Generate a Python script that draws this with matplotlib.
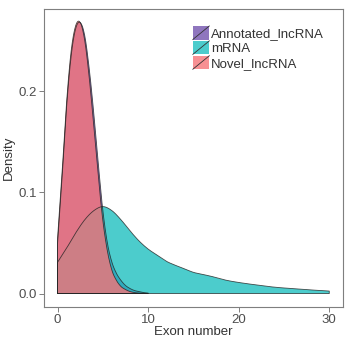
import numpy as np
import matplotlib
matplotlib.use("Agg")
import matplotlib.pyplot as plt
from matplotlib.patches import Rectangle, Patch
from matplotlib.lines import Line2D
from matplotlib.legend_handler import HandlerBase

plt.rcParams['font.family'] = ['Liberation Sans', 'DejaVu Sans']

# density curves
x_lnc = [0, 0.5, 1, 1.5, 2, 2.5, 3, 3.5, 4, 4.5, 5, 5.5, 6, 6.5, 7, 7.5, 8, 8.5, 9, 9.5, 10]
annotated = [0.05, 0.115, 0.185, 0.235, 0.262, 0.268, 0.255, 0.222, 0.178, 0.128, 0.082,
             0.05, 0.031, 0.02, 0.013, 0.008, 0.005, 0.003, 0.002, 0.001, 0.0005]
novel = [0.055, 0.12, 0.19, 0.24, 0.265, 0.268, 0.25, 0.213, 0.165, 0.115, 0.072,
         0.042, 0.023, 0.013, 0.007, 0.004, 0.002, 0.001, 0.0005, 0.0002, 0.0]

x_mrna = [0, 1, 2, 3, 4, 5, 6, 7, 8, 9, 10, 11, 12, 13, 14, 15, 16, 17, 18, 19, 20,
          22, 24, 26, 28, 30]
mrna = [0.031, 0.045, 0.06, 0.073, 0.082, 0.086, 0.082, 0.073, 0.062, 0.052, 0.044,
        0.038, 0.032, 0.028, 0.0245, 0.021, 0.019, 0.017, 0.0145, 0.0125, 0.011,
        0.0085, 0.0063, 0.0049, 0.0036, 0.0025]

labels = ['Annotated_lncRNA', 'mRNA', 'Novel_lncRNA']
colors = ['#6A48A8', '#10BCBC', '#F57478']
alphas = [0.75, 0.75, 0.8]


def smooth(xs, ys, n=12):
    # cubic hermite through the read points, just to draw a smooth outline
    xs = np.asarray(xs, float)
    ys = np.asarray(ys, float)
    m = np.gradient(ys, xs)
    out_x, out_y = [], []
    for i in range(len(xs) - 1):
        h = xs[i + 1] - xs[i]
        t = np.linspace(0, 1, n, endpoint=False)
        h00 = 2 * t**3 - 3 * t**2 + 1
        h10 = t**3 - 2 * t**2 + t
        h01 = -2 * t**3 + 3 * t**2
        h11 = t**3 - t**2
        out_x.append(xs[i] + t * h)
        out_y.append(h00 * ys[i] + h10 * h * m[i] + h01 * ys[i + 1] + h11 * h * m[i + 1])
    out_x.append([xs[-1]])
    out_y.append([ys[-1]])
    return np.concatenate(out_x), np.clip(np.concatenate(out_y), 0, None)


fig = plt.figure(figsize=(3.52, 3.39), dpi=100)
ax = fig.add_axes([0.125, 0.094, 0.849, 0.8795])

series = [(x_lnc, annotated), (x_mrna, mrna), (x_lnc, novel)]
for (xs, ys), c, a in zip(series, colors, alphas):
    sx, sy = smooth(xs, ys)
    ax.fill_between(sx, 0, sy, facecolor=c, alpha=a, edgecolor='none')
    px = np.concatenate([[sx[0]], sx, [sx[-1], sx[0]]])
    py = np.concatenate([[0], sy, [0, 0]])
    ax.plot(px, py, color='#222222', lw=0.6, alpha=0.8)

ax.set_xlim(-1.5, 31.5)
ax.set_ylim(-0.0134, 0.2814)
ax.set_xticks([0, 10, 20, 30])
ax.set_yticks([0.0, 0.1, 0.2])
ax.set_yticklabels(['0.0', '0.1', '0.2'])
ax.tick_params(direction='out', length=3.5, width=0.7, color='#7F7F7F',
               labelsize=9.5, labelcolor='#4D4D4D', pad=1.5)
for s in ax.spines.values():
    s.set_color('#7F7F7F')
    s.set_linewidth(0.8)
ax.set_xlabel('Exon number', fontsize=9.5, color='#333333', labelpad=0)
ax.set_ylabel('Density', fontsize=9.5, color='#333333', labelpad=3)


class KeyHandler(HandlerBase):
    def create_artists(self, legend, orig_handle, xdescent, ydescent, width, height, fontsize, trans):
        r = Rectangle((-xdescent, -ydescent), width, height, facecolor=orig_handle.get_facecolor(),
                      edgecolor='none', transform=trans)
        l = Line2D([-xdescent, -xdescent + width], [-ydescent, -ydescent + height],
                   color='#333333', lw=0.6, transform=trans)
        return [r, l]


handles = [Patch(facecolor=c, alpha=a) for c, a in zip(colors, alphas)]
leg = ax.legend(handles, labels, loc='upper left', bbox_to_anchor=(0.498, 0.943),
                frameon=False, fontsize=9.5, borderpad=0, borderaxespad=0,
                handlelength=1.25, handleheight=1.2, labelspacing=0.05, handletextpad=0.15,
                handler_map={Patch: KeyHandler()})
for t in leg.get_texts():
    t.set_color('#333333')

fig.savefig('out.png', dpi=100)
